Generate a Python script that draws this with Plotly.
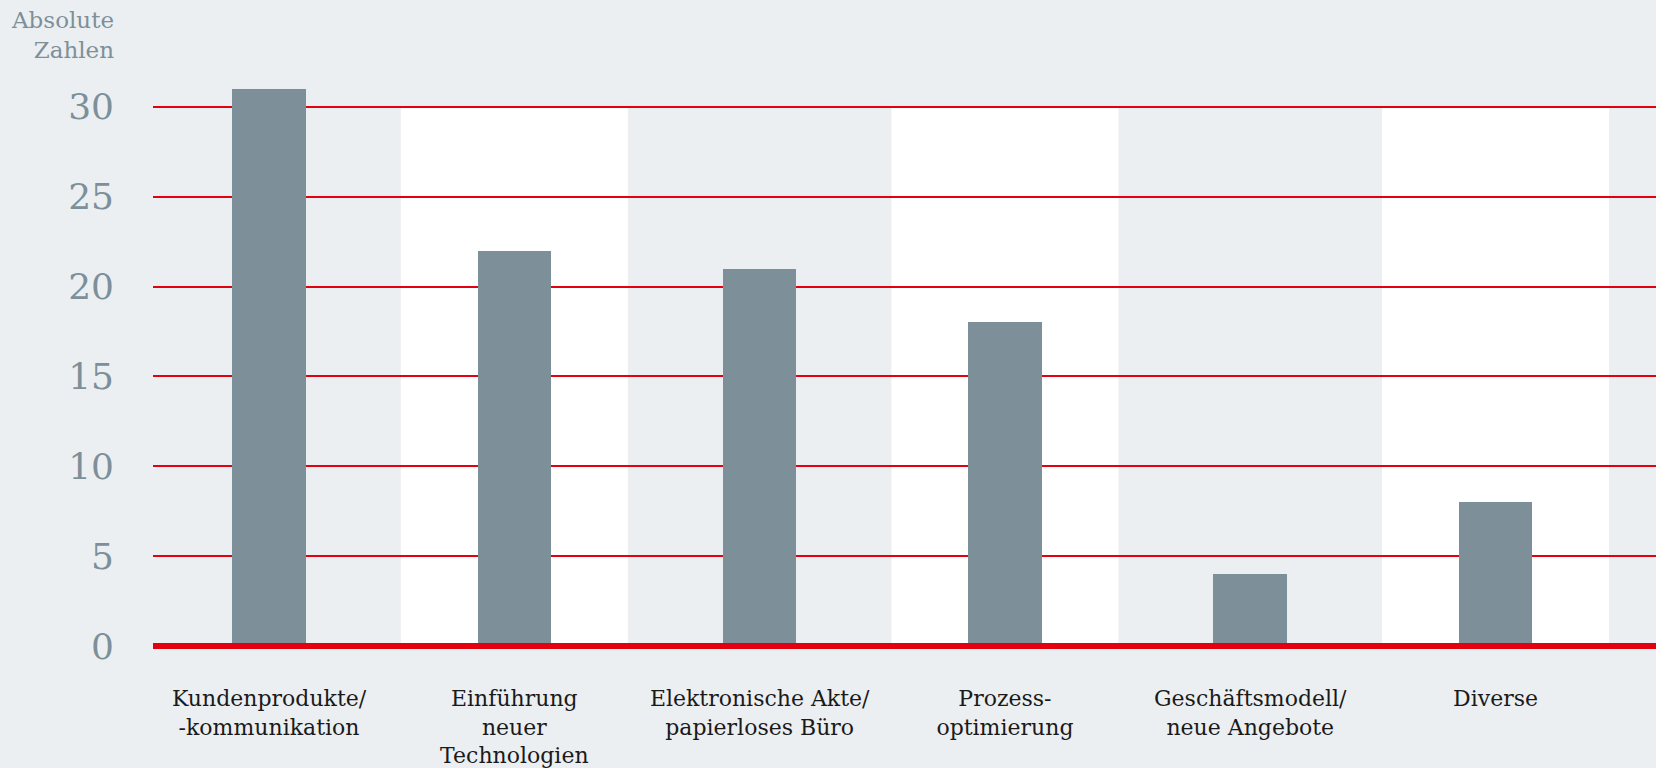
import plotly.graph_objects as go

categories = [
    "Kundenprodukte/<br>-kommunikation",
    "Einführung<br>neuer<br>Technologien",
    "Elektronische Akte/<br>papierloses Büro",
    "Prozess-<br>optimierung",
    "Geschäftsmodell/<br>neue Angebote",
    "Diverse",
]
values = [31, 22, 21, 18, 4, 8]
y_ticks = [0, 5, 10, 15, 20, 25, 30]
y_title = "Absolute<br>Zahlen"

BG = "#ECEFF2"
BAR = "#7D9099"
RED = "#E3000F"
GREY_TXT = "#7D9099"
FONT = "DejaVu Serif"

PLOT_L, PLOT_T, PLOT_B = 153, 71, 655
PLOT_W = 1656 - PLOT_L
PLOT_H = PLOT_B - PLOT_T

fig = go.Figure()
fig.add_trace(go.Bar(
    x=categories, y=values, width=0.3,
    marker=dict(color=BAR, line=dict(width=0)),
    hoverinfo="skip",
))

# white alternating bands behind every second category
shapes = []
for i in range(1, len(categories), 2):
    shapes.append(dict(
        type="rect", xref="x", yref="y",
        x0=i - 0.4627, x1=i + 0.4627, y0=0, y1=y_ticks[-1],
        fillcolor="white", line=dict(width=0), layer="below",
    ))
# thick red baseline drawn above the bars
shapes.append(dict(
    type="line", xref="paper", yref="y",
    x0=0, x1=1, y0=0, y1=0,
    line=dict(color=RED, width=6), layer="above",
))

fig.update_layout(
    width=1656, height=768,
    margin=dict(l=PLOT_L, r=0, t=PLOT_T, b=768 - PLOT_B, pad=0),
    paper_bgcolor=BG, plot_bgcolor=BG,
    showlegend=False,
    shapes=shapes,
    font=dict(family=FONT),
    xaxis=dict(
        type="category",
        range=[-0.473, 5.654],
        showgrid=False, zeroline=False, showline=False,
        ticks="", ticklen=0,
        tickfont=dict(family=FONT, size=22, color="#1A1A1A"),
        ticklabelstandoff=28,
    ),
    yaxis=dict(
        range=[-0.5, 31.99],
        tickvals=y_ticks,
        showgrid=True, gridcolor=RED, gridwidth=1.5,
        zeroline=False,
        showline=False, ticks="",
        tickfont=dict(family=FONT, size=36, color=GREY_TXT),
        ticklabelstandoff=38,
    ),
    annotations=[dict(
        text=y_title, xref="paper", yref="paper",
        x=(116 - PLOT_L) / PLOT_W, y=(PLOT_B - 5) / PLOT_H,
        xanchor="right", yanchor="top", align="right",
        showarrow=False,
        font=dict(family=FONT, size=23, color=GREY_TXT),
    )],
    bargap=0,
)

fig.write_html("out.html", config={"displayModeBar": False})
